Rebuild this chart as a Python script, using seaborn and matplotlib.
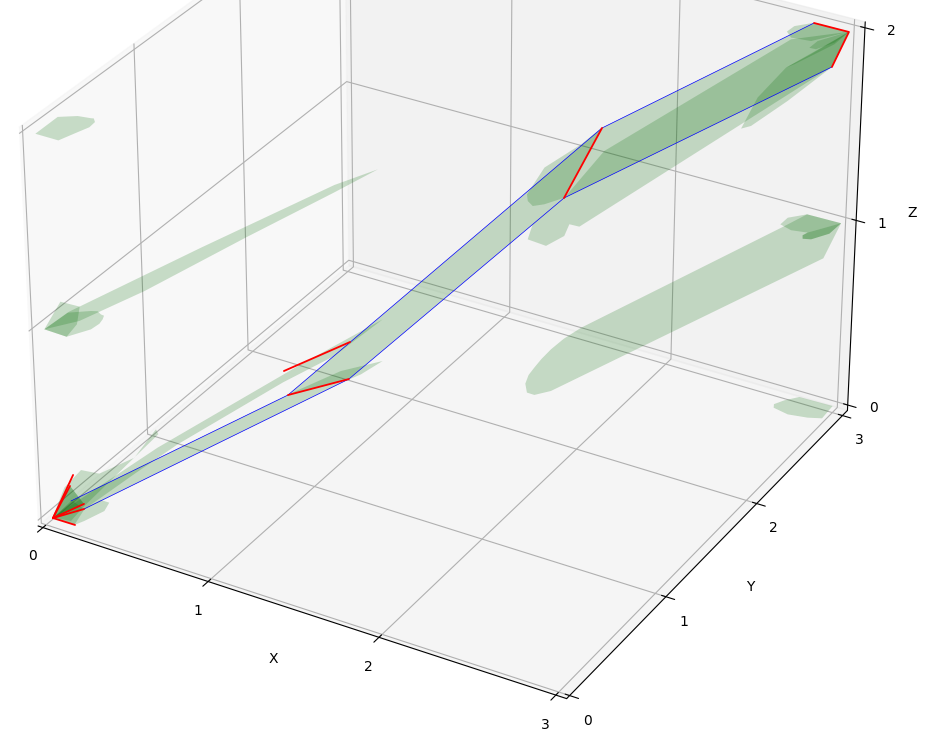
import matplotlib
matplotlib.use('Agg')
import matplotlib.pyplot as plt
import seaborn as sns
from mpl_toolkits.mplot3d.art3d import Poly3DCollection

# shadows on the walls and the floor
wall_long = [(3.002, 3.001, 0.996), (2.927, 2.963, 0.807), (1.662, 2.331, 0.041), (1.583, 2.292, 0.016),
             (1.548, 2.274, 0.028), (1.540, 2.270, 0.077), (1.555, 2.278, 0.125), (1.582, 2.291, 0.167),
             (1.615, 2.308, 0.215), (1.660, 2.330, 0.270), (1.720, 2.360, 0.330), (1.801, 2.400, 0.393),
             (2.732, 2.866, 0.967), (2.843, 2.921, 1.038)]
wall_cap_a = [(2.843, 2.921, 1.038), (3.002, 3.001, 0.996), (2.849, 2.925, 0.941), (2.771, 2.886, 0.951),
              (2.721, 2.860, 0.981), (2.754, 2.877, 1.017)]
wall_cap_b = [(3.002, 3.001, 0.996), (2.950, 2.975, 0.939), (2.866, 2.933, 0.906), (2.827, 2.913, 0.908),
              (2.826, 2.913, 0.926), (2.849, 2.925, 0.941)]
floor_far = [(2.801, 3.005, 0), (2.995, 3.011, 0), (3.002, 2.871, 0), (2.933, 2.839, 0), (2.827, 2.816, 0),
             (2.732, 2.839, 0), (2.717, 2.872, 0), (2.747, 2.934, 0)]
left_top = [(0, 0.064, 1.967), (0, 0.261, 1.969), (0, 0.434, 1.902), (0, 0.550, 1.843), (0, 0.574, 1.832),
            (0, 0.583, 1.810), (0, 0.532, 1.805), (0, 0.414, 1.826), (0, 0.258, 1.853)]
left_a = [(0.004, 0.058, 0.979), (0.014, 0.194, 1.063), (0.024, 0.347, 0.971), (0.022, 0.319, 0.891),
          (0.016, 0.232, 0.864)]
left_b = [(0.004, 0.058, 0.979), (0.017, 0.249, 0.982), (0.031, 0.436, 0.910), (0.034, 0.490, 0.885),
          (0.036, 0.516, 0.857), (0.038, 0.540, 0.840), (0.037, 0.528, 0.826), (0.035, 0.500, 0.815),
          (0.030, 0.430, 0.816), (0.016, 0.232, 0.864)]
left_streak = [(0.004, 0.058, 0.979), (0.018, 0.262, 0.982), (0.096, 1.371, 0.845), (0.180, 2.574, 0.685),
               (0.209, 2.986, 0.604), (0.180, 2.573, 0.645), (0.124, 1.777, 0.733), (0.062, 0.880, 0.823),
               (0.024, 0.339, 0.900)]
floor_streak = [(0.021, 0.030, 0), (0.119, 0.868, 0), (0.327, 1.966, 0), (0.465, 2.597, 0), (0.437, 2.131, 0),
                (0.342, 1.760, 0), (0.192, 0.948, 0), (0.155, 0.595, 0), (0.118, 0.177, 0)]
start_upper = [(0.021, 0.030, 0), (0.016, 0.153, 0.1), (-0.004, 0.337, 0.1), (0.097, 0.355, 0.1),
               (0.169, 0.575, 0.1), (0.114, 0.866, 0.1), (0.151, 0.832, 0.1), (0.203, 0.041, 0.1),
               (0.120, 0.051, 0)]
start_cap = [(0.021, 0.030, 0), (0.111, 0.173, 0), (0.143, 0.294, 0), (0.194, 0.294, 0), (0.216, 0.215, 0),
             (0.179, 0.085, 0), (0.156, 0.028, 0)]
start_wedge = [(0.021, 0.030, 0), (0.022, 0.213, 0), (0.118, 0.177, 0), (0.156, 0.028, 0)]
mid_shadow = [(0.448, 1.717, 0), (0.549, 2.014, 0), (0.690, 2.216, 0), (0.660, 2.038, 0), (0.633, 1.963, 0),
              (0.433, 1.657, 0)]
upper_q = [(3.001, 3.001, 1.990), (2.929, 2.965, 1.809), (1.786, 2.393, 0.937), (1.739, 2.370, 0.948),
           (1.716, 2.358, 0.885), (1.631, 2.316, 0.829), (1.545, 2.273, 0.861), (1.568, 2.284, 0.942),
           (1.714, 2.357, 1.088), (1.896, 2.448, 1.340), (2.738, 2.869, 1.943)]
upper_r = [(2.524, 2.762, 1.477), (2.569, 2.785, 1.492), (2.733, 2.867, 1.627), (2.925, 2.962, 1.804),
           (3.001, 3.001, 1.990), (2.720, 2.860, 1.798), (2.595, 2.798, 1.640)]
upper_u = [(1.540, 2.270, 1.100), (1.544, 2.272, 1.065), (1.567, 2.284, 1.039), (1.621, 2.311, 1.050),
           (1.714, 2.357, 1.088), (1.882, 2.441, 1.461), (1.788, 2.394, 1.371), (1.620, 2.310, 1.244)]
cap1 = [(2.718, 2.859, 1.982), (2.751, 2.875, 2.011), (2.841, 2.920, 2.031), (3.001, 3.001, 1.990),
        (2.829, 2.915, 1.937), (2.738, 2.869, 1.952)]
cap2 = [(2.823, 2.911, 1.903), (2.859, 2.930, 1.938), (3.001, 3.001, 1.990), (2.935, 2.968, 1.932),
        (2.853, 2.927, 1.896)]
cap3 = [(2.720, 2.860, 1.798), (2.831, 2.916, 1.870), (3.001, 3.001, 1.990), (2.936, 2.968, 1.924),
        (2.757, 2.879, 1.816)]

# stations along the corridor
start_hub = (0.045, -0.001, 0.02)
start_tips = [(-0.013, 0.277, 0.1), (0.032, 0.181, 0.1), (0.189, 0.074, 0.1), (0.216, 0.034, 0.1),
              (0.179, 0.001, 0.02)]
start_a = (0.116, 0.064, 0.1)
start_b = (0.216, 0.034, 0.1)
mid1_a = (0.826, 1.035, 0.4)
mid1_b = (1.016, 1.329, 0.4)
mid1_c = (0.682, 1.229, 0.4)
mid1_d = (0.828, 1.654, 0.4)
mid2_a = (1.629, 2.920, 1.2)
mid2_b = (1.822, 2.155, 1.2)
end_a = (2.812, 2.978, 2.0)
end_b = (3.010, 2.977, 2.0)
end_c = (3.105, 2.590, 2.0)

band1 = [start_a, mid1_a, mid1_b, start_b]
band2 = [mid1_a, mid2_a, mid2_b, mid1_b]
band3 = [mid2_a, end_a, end_b, end_c, mid2_b]
start_fan = [start_hub, start_a, start_b]
start_core = [start_hub, start_tips[1], start_tips[2]]

polys = [wall_long, wall_cap_a, wall_cap_b, wall_cap_b, floor_far, left_top, left_a, left_b, left_streak,
         floor_streak, start_upper, start_cap, start_wedge, start_fan, start_core, start_core, mid_shadow,
         upper_q, upper_r, upper_u, cap1, cap2, cap3, band1, band2, band3]
blue_lines = [[start_a, mid1_a, mid2_a, end_a], [start_b, mid1_b, mid2_b, end_c]]
red_lines = [[start_hub, t] for t in start_tips] + [[mid1_a, mid1_b], [mid1_c, mid1_d], [mid2_a, mid2_b],
                                                    [end_a, end_b, end_c]]

sns.set_style('white', {'grid.color': '#b0b0b0', 'text.color': 'black', 'axes.labelcolor': 'black',
                        'xtick.color': 'black', 'ytick.color': 'black', 'axes.edgecolor': 'black'})
plt.rcParams['font.family'] = ['DejaVu Sans']

fig = plt.figure(figsize=(9.33, 7.47), dpi=100)
side = 941.0
cx, cy = 437.5, 459.5
ax = fig.add_axes([(cx - side / 2) / 933, (cy - side / 2) / 747, side / 933, side / 747], projection='3d',
                  computed_zorder=False)

for p in polys:
    ax.add_collection3d(Poly3DCollection([p], facecolor='#006a00', edgecolor='none', alpha=0.2, zorder=2))
for line in blue_lines:
    ax.plot(*zip(*line), color='blue', lw=0.5, zorder=3)
for line in red_lines:
    ax.plot(*zip(*line), color='red', lw=1.3, zorder=4)

ax.set_xlim(-0.03, 3.06)
ax.set_ylim(-0.03, 3.06)
ax.set_zlim(-0.03, 2.03)
ax.set_xticks([0, 1, 2, 3])
ax.set_yticks([0, 1, 2, 3])
ax.set_zticks([0, 1, 2])
ax.set_xlabel('X')
ax.set_ylabel('Y')
ax.set_zlabel('Z')
fig.savefig('out.png', dpi=100)
